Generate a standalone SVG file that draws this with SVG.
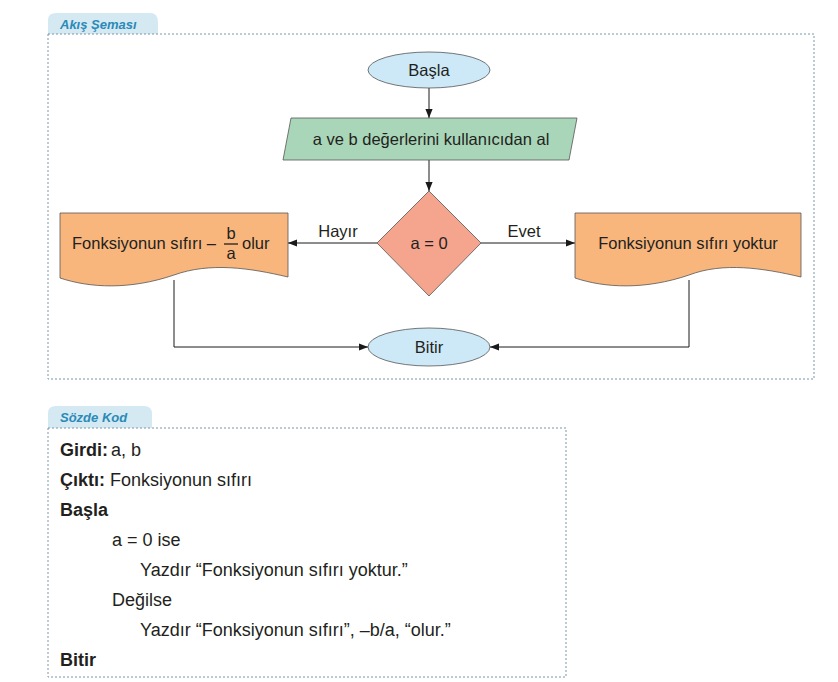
<svg xmlns="http://www.w3.org/2000/svg" width="838" height="682" viewBox="0 0 838 682">
<defs>
<marker id="ar" viewBox="0 0 10 10" refX="10" refY="5" markerWidth="9" markerHeight="9" orient="auto" markerUnits="userSpaceOnUse"><path d="M0,1 L10,5 L0,9 z" fill="#1a1a1a"/></marker>
</defs>
<style>
text{font-family:"Liberation Sans",Arial,sans-serif;fill:#231f20}
.t{font-size:16.5px;text-anchor:middle}
.tab{font-size:13px;font-weight:bold;font-style:italic;fill:#2a8ab8}
.frame{fill:#fff;stroke:#7a96aa;stroke-width:1;stroke-dasharray:2,2}
.c{fill:none;stroke:#1a1a1a;stroke-width:1}
.n{stroke:#555;stroke-width:0.8}
.code{font-size:18px}
.b{font-weight:bold}
</style>
<rect width="838" height="682" fill="#fff"/>
<g id="frame1">
<path d="M48,34 V20 Q48,13 56,13 H150 Q158,13 158,22 V34 Z" fill="#d5e9f3"/>
<text class="tab" x="60" y="29">Akış Şeması</text>
<rect class="frame" x="48" y="34" width="766" height="345"/>
</g>
<g id="connectors">
<line class="c" x1="429" y1="88" x2="429" y2="118" marker-end="url(#ar)"/>
<line class="c" x1="429" y1="160" x2="429" y2="191" marker-end="url(#ar)"/>
<line class="c" x1="377" y1="243" x2="288" y2="243" marker-end="url(#ar)"/>
<line class="c" x1="481" y1="243" x2="575" y2="243" marker-end="url(#ar)"/>
<polyline class="c" points="174,280 174,347 368,347" marker-end="url(#ar)"/>
<polyline class="c" points="689,280 689,347 490,347" marker-end="url(#ar)"/>
<text class="t" x="338" y="237">Hayır</text>
<text class="t" x="524" y="237">Evet</text>
</g>
<g id="basla">
<ellipse class="n" cx="429" cy="70" rx="61" ry="18" fill="#cde9f7"/>
<text class="t" x="429" y="76">Başla</text>
</g>
<g id="input">
<polygon class="n" points="291,118 577,118 569,160 283,160" fill="#a9d6b9"/>
<text class="t" x="431" y="145">a ve b değerlerini kullanıcıdan al</text>
</g>
<g id="decision">
<polygon class="n" points="429,191 481,243 429,296 377,243" fill="#f5a48d"/>
<text class="t" x="429" y="249">a = 0</text>
</g>
<g id="left">
<path class="n" d="M60,213 H288 V277 C250,268 210,262 174,275 C130,290 90,288 60,278 Z" fill="#f8b67d"/>
<text class="t" x="72" y="249" style="text-anchor:start">Fonksiyonun sıfırı –</text>
<text class="t" x="231" y="239">b</text>
<line x1="224" y1="244" x2="238" y2="244" stroke="#231f20" stroke-width="1.3"/>
<text class="t" x="231" y="259">a</text>
<text class="t" x="242" y="249" style="text-anchor:start">olur</text>
</g>
<g id="right">
<path class="n" d="M575,213 H801 V277 C763,268 723,262 689,275 C645,290 605,288 575,278 Z" fill="#f8b67d"/>
<text class="t" x="688" y="249">Fonksiyonun sıfırı yoktur</text>
</g>
<g id="bitir">
<ellipse class="n" cx="429" cy="347" rx="61" ry="19" fill="#cde9f7"/>
<text class="t" x="429" y="353">Bitir</text>
</g>
<g id="frame2">
<path d="M48,428 V413 Q48,406 56,406 H144 Q152,406 152,414 V428 Z" fill="#d5e9f3"/>
<text class="tab" x="60" y="422">Sözde Kod</text>
<rect class="frame" x="48" y="428" width="518" height="249"/>
<text class="code" x="60" y="456"><tspan class="b">Girdi:</tspan><tspan dx="3">a, b</tspan></text>
<text class="code" x="60" y="486"><tspan class="b">Çıktı:</tspan> Fonksiyonun sıfırı</text>
<text class="code b" x="60" y="516">Başla</text>
<text class="code" x="112" y="546">a = 0 ise</text>
<text class="code" x="140" y="576">Yazdır “Fonksiyonun sıfırı yoktur.”</text>
<text class="code" x="112" y="606">Değilse</text>
<text class="code" x="140" y="636">Yazdır “Fonksiyonun sıfırı”, –b/a, “olur.”</text>
<text class="code b" x="60" y="666">Bitir</text>
</g>
</svg>
